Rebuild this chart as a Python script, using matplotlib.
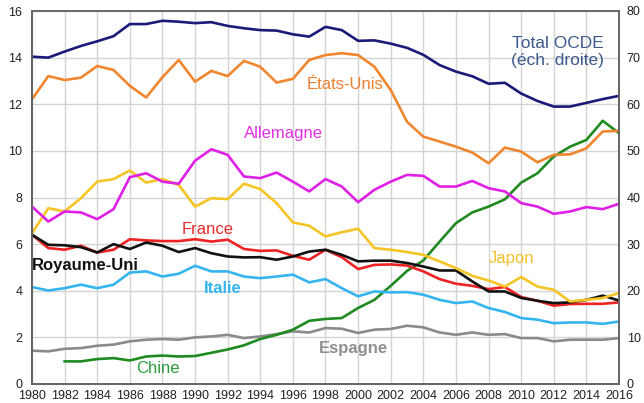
import numpy as np
import matplotlib
matplotlib.use('Agg')
import matplotlib.pyplot as plt

plt.rcParams['font.family'] = ['Liberation Sans', 'DejaVu Sans']

years = np.arange(1980, 2017)
china_years = np.arange(1982, 2017)

# Total OCDE, read on the right-hand scale
ocde = [70.2, 70.0, 71.3, 72.5, 73.5, 74.6, 77.2, 77.2, 77.9, 77.7, 77.4, 77.6, 76.8,
        76.3, 75.9, 75.8, 75.0, 74.5, 76.6, 75.9, 73.6, 73.7, 73.0, 72.1, 70.6, 68.4,
        67.0, 66.0, 64.4, 64.6, 62.3, 60.7, 59.5, 59.5, 60.3, 61.1, 61.8]
usa = [12.21, 13.21, 13.04, 13.14, 13.64, 13.47, 12.79, 12.29, 13.16, 13.9, 12.97, 13.43,
       13.21, 13.86, 13.61, 12.93, 13.09, 13.9, 14.11, 14.19, 14.11, 13.61, 12.61, 11.25,
       10.61, 10.4, 10.18, 9.93, 9.47, 10.14, 9.97, 9.51, 9.83, 9.85, 10.11, 10.83, 10.86]
germany = [7.61, 6.97, 7.4, 7.36, 7.07, 7.5, 8.87, 9.04, 8.68, 8.59, 9.58, 10.07, 9.83,
           8.9, 8.83, 9.07, 8.68, 8.26, 8.79, 8.47, 7.8, 8.33, 8.68, 8.97, 8.93, 8.47,
           8.47, 8.71, 8.4, 8.26, 7.76, 7.61, 7.3, 7.4, 7.59, 7.5, 7.73]
japan = [6.47, 7.54, 7.4, 7.97, 8.68, 8.79, 9.16, 8.64, 8.79, 8.54, 7.61, 7.97, 7.93,
         8.59, 8.36, 7.76, 6.93, 6.79, 6.33, 6.51, 6.66, 5.83, 5.76, 5.66, 5.54, 5.26,
         4.97, 4.64, 4.44, 4.18, 4.59, 4.18, 4.04, 3.54, 3.61, 3.69, 3.9]
france = [6.4, 5.83, 5.76, 5.93, 5.64, 5.76, 6.21, 6.16, 6.13, 6.13, 6.21, 6.11, 6.19,
          5.79, 5.71, 5.73, 5.5, 5.33, 5.76, 5.44, 4.93, 5.11, 5.13, 5.08, 4.83, 4.5,
          4.3, 4.21, 4.07, 4.16, 3.73, 3.57, 3.36, 3.43, 3.44, 3.44, 3.5]
uk = [6.4, 5.97, 5.95, 5.87, 5.64, 6.0, 5.79, 6.07, 5.93, 5.66, 5.83, 5.61, 5.47, 5.43,
      5.44, 5.33, 5.47, 5.68, 5.76, 5.54, 5.26, 5.29, 5.29, 5.19, 5.04, 4.87, 4.87, 4.4,
      3.97, 3.97, 3.69, 3.57, 3.47, 3.5, 3.61, 3.79, 3.58]
italy = [4.16, 4.01, 4.11, 4.26, 4.11, 4.26, 4.78, 4.83, 4.61, 4.73, 5.07, 4.83, 4.83,
         4.61, 4.54, 4.61, 4.69, 4.36, 4.5, 4.11, 3.76, 3.97, 3.93, 3.94, 3.83, 3.61,
         3.47, 3.54, 3.26, 3.09, 2.83, 2.76, 2.61, 2.64, 2.64, 2.58, 2.68]
spain = [1.43, 1.4, 1.51, 1.54, 1.64, 1.69, 1.83, 1.9, 1.93, 1.9, 2.0, 2.04, 2.11, 1.97,
         2.04, 2.14, 2.26, 2.21, 2.4, 2.37, 2.19, 2.33, 2.36, 2.5, 2.43, 2.21, 2.11, 2.21,
         2.11, 2.14, 1.97, 1.97, 1.83, 1.9, 1.9, 1.9, 1.97]
china = [0.97, 0.97, 1.07, 1.11, 1.01, 1.18, 1.22, 1.18, 1.2, 1.34, 1.48, 1.66, 1.93,
         2.11, 2.33, 2.71, 2.79, 2.83, 3.26, 3.61, 4.21, 4.85, 5.3, 6.11, 6.9, 7.36, 7.61,
         7.92, 8.64, 9.04, 9.76, 10.18, 10.47, 11.29, 10.76]

fig = plt.figure(figsize=(6.44, 4.03), dpi=100)
ax = fig.add_axes([32 / 644, 1 - 384 / 403, 587 / 644, 373 / 403])
ax2 = ax.twinx()

lw = 1.9
ax.plot(years, spain, color='#8a8a8a', lw=lw)
ax.plot(china_years, china, color='#1f8a1f', lw=lw)
ax.plot(years, italy, color='#35b5f0', lw=lw)
ax.plot(years, france, color='#ee2222', lw=lw)
ax.plot(years, uk, color='#111111', lw=lw)
ax.plot(years, japan, color='#f5c526', lw=lw)
ax.plot(years, germany, color='#e020e6', lw=lw)
ax.plot(years, usa, color='#f0862e', lw=lw)
ax2.plot(years, ocde, color='#1a1a78', lw=lw)

ax.set_xlim(1980, 2016)
ax.set_ylim(0, 16)
ax2.set_ylim(0, 80)
ax.set_xticks(np.arange(1980, 2017, 2))
ax.set_yticks(np.arange(0, 17, 2))
ax2.set_yticks(np.arange(0, 81, 10))
ax.grid(True, color='#d4d4d4', lw=1)
ax.set_axisbelow(True)

for a in (ax, ax2):
    a.tick_params(length=0, labelsize=9, colors='#222222')
    for s in a.spines.values():
        s.set_color('#666666')
        s.set_linewidth(1.3)
ax.spines['top'].set_color('#999999')
ax.tick_params(axis='x', pad=4.6)
ax.tick_params(axis='y', pad=7)
ax2.tick_params(axis='y', pad=5.5)

fs = 12
ax.text(2012.25, 14.24, 'Total OCDE\n(éch. droite)', color='#3d5a8c', fontsize=12.5,
        ha='center', va='center', multialignment='center', linespacing=1.1)
ax.text(1999.2, 12.83, 'États-Unis', color='#ea8030', fontsize=fs, ha='center', va='center')
ax.text(1995.4, 10.73, 'Allemagne', color='#e030e0', fontsize=fs, ha='center', va='center')
ax.text(1990.8, 6.61, 'France', color='#e82a2a', fontsize=fs, ha='center', va='center')
ax.text(1983.3, 5.08, 'Royaume-Uni', color='#111111', fontsize=fs, fontweight='bold',
        ha='center', va='center')
ax.text(1991.7, 4.11, 'Italie', color='#35b5f0', fontsize=fs, fontweight='bold',
        ha='center', va='center')
ax.text(1999.7, 1.54, 'Espagne', color='#8f8f8f', fontsize=fs, fontweight='bold',
        ha='center', va='center')
ax.text(1987.7, 0.66, 'Chine', color='#2a9a3a', fontsize=fs, ha='center', va='center')
ax.text(2009.4, 5.37, 'Japon', color='#f2c02a', fontsize=fs, ha='center', va='center')

fig.savefig('out.png', dpi=100)
